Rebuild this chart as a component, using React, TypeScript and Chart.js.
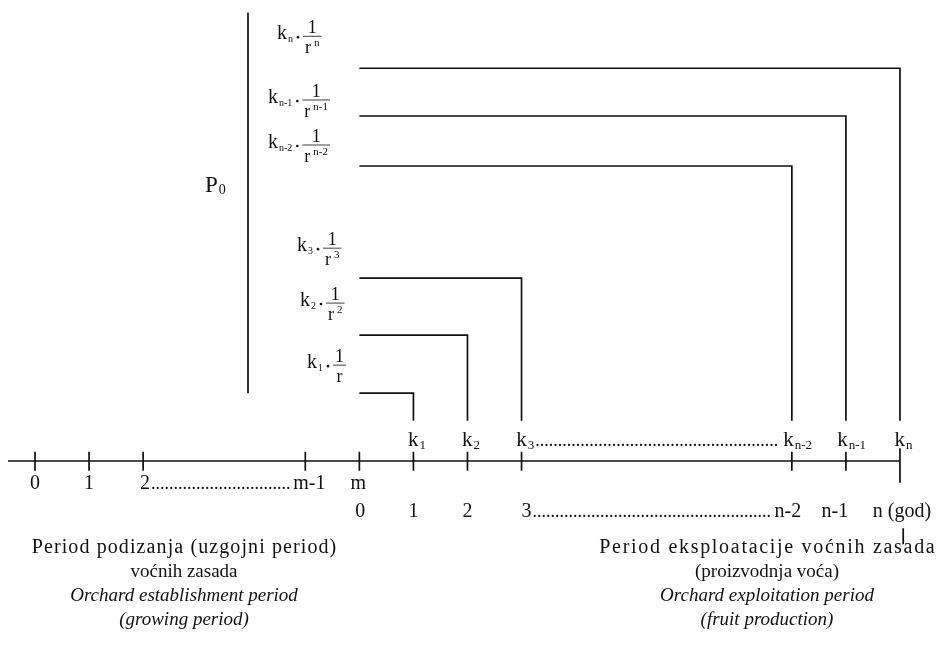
import { useEffect, useRef } from "react";
import { Chart, registerables } from "chart.js";

Chart.register(...registerables);

// ---------- data ----------
const establishmentLabels = ["0", "1", "2", "m-1", "m"];
const establishmentYears = [0, 1, 2, 5, 6];
const exploitationLabels = ["0", "1", "2", "3", "n-2", "n-1", "n (god)"];
const exploitationYears = [6, 7, 8, 9, 14, 15, 16];
const cashFlowSubs = ["1", "2", "3", "n-2", "n-1", "n"];
const cashFlowYears = [7, 8, 9, 14, 15, 16];
const discountExponents = ["", "2", "3", "n-2", "n-1", "n"];
const discountedValues = [1.18, 2.19, 3.18, 5.13, 6.0, 6.83];
const presentValueLevel = 7.8;
const leftBlock = [
  "Period podizanja (uzgojni period)",
  "voćnih zasada",
  "Orchard establishment period",
  "(growing period)",
];
const rightBlock = [
  "Period eksploatacije voćnih zasada",
  "(proizvodnja voća)",
  "Orchard exploitation period",
  "(fruit production)",
];

// ---------- layout ----------
const X_MIN = -0.6474;
const X_MAX = 16.907;
const Y_MIN = -3.322;
const Y_MAX = 8.017;
const FONT = '"Liberation Serif", "Times New Roman", serif';
const row1Offsets = [0, 0, 2, 4, -1];
const row2Offsets = [1, 0, 0, 5, -4, -11, 2];
const labelBarOffsets = [-28, -32, -30, -21, -16, -32];
const labelKLeft = [307, 300, 297, 268, 268, 277];
const blockBases = [553, 577, 601, 625];
const firstLineSpacing = [1.1, 1.7];

export default function App() {
  const ref = useRef<HTMLCanvasElement | null>(null);

  useEffect(() => {
    if (!ref.current) return;
    const line = (pts: { x: number; y: number }[]) => ({
      data: pts,
      showLine: true,
      pointRadius: 0,
      borderColor: "#111",
      borderWidth: 1.7,
      fill: false,
    });
    const datasets: any[] = [];
    // main time axis
    datasets.push(line([{ x: -0.5, y: 0 }, { x: 16, y: 0 }]));
    // ticks
    const allTicks = Array.from(new Set([...establishmentYears, ...exploitationYears]));
    allTicks.forEach((t) => {
      if (t === 16) {
        datasets.push(line([{ x: t, y: 0.22 }, { x: t, y: -0.38 }]));
      } else {
        datasets.push(line([{ x: t, y: 0.16 }, { x: t, y: -0.17 }]));
      }
    });
    // discount staircases
    discountedValues.forEach((v, i) => {
      datasets.push(
        line([
          { x: 6, y: v },
          { x: cashFlowYears[i], y: v },
          { x: cashFlowYears[i], y: 0.7 },
        ])
      );
    });
    // P0 bracket
    datasets.push(line([{ x: 3.94, y: presentValueLevel }, { x: 3.94, y: discountedValues[0] }]));
    // small marker under n (god)
    datasets.push(line([{ x: 16.06, y: -1.17 }, { x: 16.06, y: -1.45 }]));

    const textPlugin = {
      id: "diagramText",
      afterDatasetsDraw(chart: any) {
        const ctx: any = chart.ctx;
        const xp = (v: number) => chart.scales.x.getPixelForValue(v);
        const yp = (v: number) => chart.scales.y.getPixelForValue(v);
        const axisY = yp(0);
        ctx.save();
        ctx.fillStyle = "#111";
        ctx.textBaseline = "alphabetic";

        const setFont = (size: number, italic = false) => {
          ctx.font = `${italic ? "italic " : ""}${size}px ${FONT}`;
        };
        const dots = (x0: number, x1: number, y: number, size: number) => {
          setFont(size);
          const dw = ctx.measureText(".").width;
          const n = Math.max(0, Math.floor((x1 - x0) / dw));
          ctx.textAlign = "left";
          ctx.fillText(".".repeat(n), x0, y);
        };

        // --- k labels above axis ---
        const kBase = axisY - 15;
        const kEnds: number[] = [];
        const kStarts: number[] = [];
        cashFlowYears.forEach((yr, i) => {
          setFont(21);
          const kw = ctx.measureText("k").width;
          setFont(13);
          const sw = ctx.measureText(cashFlowSubs[i]).width;
          const w = kw + sw + 1;
          const left = xp(yr) - 0.3 * w;
          setFont(21);
          ctx.textAlign = "left";
          ctx.fillText("k", left, kBase);
          setFont(13);
          ctx.fillText(cashFlowSubs[i], left + kw + 1, kBase + 3);
          kStarts.push(left);
          kEnds.push(left + w);
        });
        for (let i = 0; i < cashFlowYears.length - 1; i++) {
          if (cashFlowYears[i + 1] - cashFlowYears[i] > 1) {
            dots(kEnds[i] + 1, kStarts[i + 1] - 1, kBase, 18);
          }
        }

        // --- year rows below axis ---
        const drawRow = (labels: string[], years: number[], offs: number[], base: number) => {
          const ends: number[] = [];
          const starts: number[] = [];
          labels.forEach((lab, i) => {
            setFont(20);
            const w = ctx.measureText(lab).width;
            const cx = xp(years[i]) + offs[i];
            ctx.textAlign = "center";
            ctx.fillText(lab, cx, base);
            starts.push(cx - w / 2);
            ends.push(cx + w / 2);
          });
          for (let i = 0; i < labels.length - 1; i++) {
            if (years[i + 1] - years[i] > 1) dots(ends[i] + 1, starts[i + 1] - 1, base, 18);
          }
        };
        drawRow(establishmentLabels, establishmentYears, row1Offsets, axisY + 28);
        drawRow(exploitationLabels, exploitationYears, row2Offsets, axisY + 56);

        // --- discounted value labels ---
        discountedValues.forEach((v, i) => {
          const barY = yp(v) + labelBarOffsets[i];
          let x = labelKLeft[i];
          setFont(20);
          ctx.textAlign = "left";
          ctx.fillText("k", x, barY + 3);
          x += ctx.measureText("k").width + 1;
          setFont(10);
          ctx.fillText(cashFlowSubs[i], x, barY + 6);
          x += ctx.measureText(cashFlowSubs[i]).width + 5;
          ctx.beginPath();
          ctx.arc(x, barY + 1, 1.3, 0, Math.PI * 2);
          ctx.fill();
          x += 5;
          setFont(18);
          const numW = ctx.measureText("1").width;
          const rW = ctx.measureText("r").width;
          setFont(11);
          const eW = discountExponents[i] ? ctx.measureText(discountExponents[i]).width + 3 : 0;
          const denW = rW + eW;
          const barW = Math.max(numW, denW) + 4;
          const cx = x + barW / 2;
          ctx.fillRect(x, barY - 0.4, barW, 0.8);
          setFont(18);
          ctx.textAlign = "center";
          ctx.fillText("1", cx, barY - 3);
          ctx.textAlign = "left";
          const dx = cx - denW / 2;
          ctx.fillText("r", dx, barY + 17);
          if (discountExponents[i]) {
            setFont(11);
            ctx.fillText(discountExponents[i], dx + rW + 3, barY + 10);
          }
        });

        // --- P0 ---
        setFont(23);
        ctx.textAlign = "left";
        ctx.fillText("P", 205, 192);
        const pw = ctx.measureText("P").width;
        setFont(14);
        ctx.fillText("0", 205 + pw + 1, 194);

        // --- period descriptions ---
        const block = (lines: string[], cx: number, spacing: number) => {
          lines.forEach((t, i) => {
            setFont(i === 0 ? 20 : 19, i >= 2);
            ctx.textAlign = "center";
            if (i === 0) {
              ctx.letterSpacing = `${spacing}px`;
              ctx.fillText(t, cx + spacing / 2, blockBases[i]);
              ctx.letterSpacing = "0px";
            } else {
              ctx.fillText(t, cx, blockBases[i]);
            }
          });
        };
        block(leftBlock, 184, firstLineSpacing[0]);
        block(rightBlock, 767, firstLineSpacing[1]);

        ctx.restore();
      },
    };

    const chart = new Chart(ref.current, {
      type: "scatter",
      data: { datasets },
      options: {
        animation: false,
        responsive: false,
        layout: { padding: 0 },
        plugins: { legend: { display: false }, tooltip: { enabled: false } },
        scales: {
          x: { type: "linear", display: false, min: X_MIN, max: X_MAX },
          y: { type: "linear", display: false, min: Y_MIN, max: Y_MAX },
        },
      },
      plugins: [textPlugin],
    });
    return () => chart.destroy();
  }, []);

  return (
    <div style={{ position: "absolute", left: 0, top: 0, width: 949, height: 652, background: "#fff" }}>
      <canvas ref={ref} width={949} height={652} style={{ width: 949, height: 652 }} />
    </div>
  );
}
